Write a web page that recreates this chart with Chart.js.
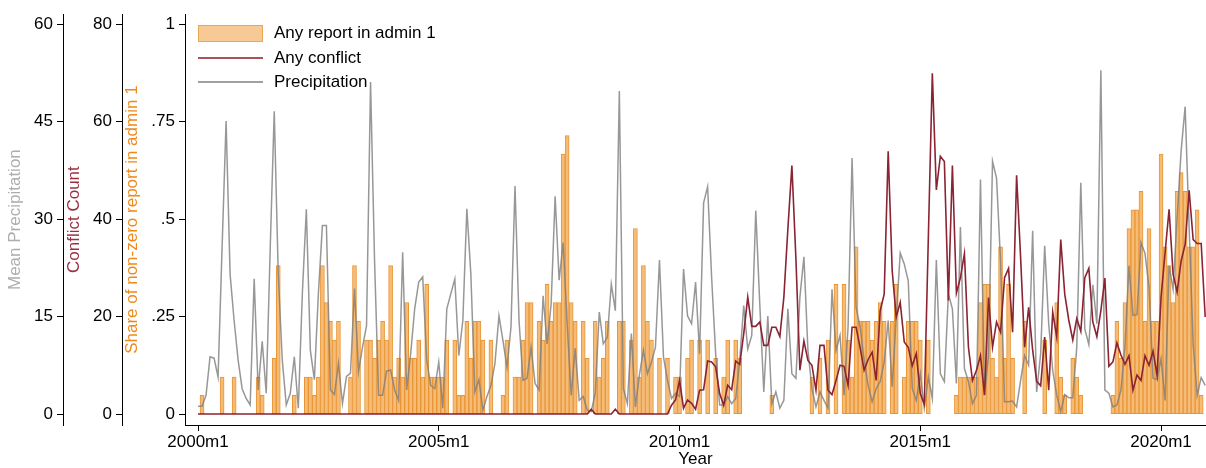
<!DOCTYPE html>
<html>
<head>
<meta charset="utf-8">
<title>Reports, conflict and precipitation</title>
<script src="https://cdn.jsdelivr.net/npm/chart.js"></script>
<style>
    body {
        margin: 0;
        background: #fff;
        font-family: "Liberation Sans", Arial, sans-serif;
    }

    #wrap {
        position: relative;
        width: 1206px;
        height: 468px;
    }

    #legend {
        position: absolute;
        left: 198px;
        top: 21px;
        font-size: 17px;
        color: #000;
    }

    .row {
        position: relative;
        height: 24.5px;
        line-height: 24.5px;
        padding-left: 76px;
        white-space: nowrap;
    }

    .sw {
        position: absolute;
        left: 0;
    }

    .box {
        top: 4px;
        width: 63px;
        height: 15px;
        background: #f6c995;
        border: 1px solid #eaa555;
    }

    .ln {
        top: 11px;
        width: 65px;
        height: 0;
        border-top: 2px solid;
    }
</style>
</head>
<body>
<div id="wrap">
    <canvas id="chart" width="1206" height="468"></canvas>
    <div id="legend">
        <div class="row"><span class="sw box"></span>Any report in admin 1</div>
        <div class="row"><span class="sw ln" style="border-color:#a8535c"></span>Any conflict</div>
        <div class="row"><span class="sw ln" style="border-color:#a0a0a0"></span>Precipitation</div>
    </div>
</div>

<script>
    // monthly values, 2000m1 .. 2020m12, one row per year
    var shareReport = [
        0, .048, 0, 0, 0, 0, .095, 0, 0, .095, 0, 0,
        0, 0, 0, .095, .048, 0, 0, .143, .381, 0, 0, 0,
        .048, 0, 0, .095, .095, .048, .095, .381, .286, .238, .19, .238,
        0, 0, .095, .381, .238, 0, .19, .19, .143, .19, .238, .19,
        .381, .095, .143, .095, .286, .143, .143, .19, .095, .333, .095, .095,
        .095, .095, .19, 0, .19, .048, .048, .238, .143, .238, .238, .19,
        0, .19, 0, 0, .048, .19, 0, .095, .095, .19, .286, .286,
        0, .238, .19, .333, .238, .286, .286, .667, .714, .286, .238, 0,
        .238, .143, 0, .238, .095, .143, .238, 0, 0, .238, .238, 0,
        .19, .476, .095, .381, .238, .19, 0, .143, 0, .143, 0, .095,
        .095, 0, .143, .19, 0, .19, 0, .19, 0, .143, 0, .095,
        .19, 0, .19, .143, 0, 0, 0, 0, 0, 0, 0, .048,
        0, 0, 0, 0, 0, 0, 0, 0, 0, .095, 0, .143,
        0, .19, 0, .333, 0, .333, .19, .095, .429, .238, .238, .238,
        .19, .238, .286, .238, 0, .238, .333, 0, .095, .238, .238, .238,
        .19, 0, .19, 0, 0, 0, 0, 0, 0, .048, .095, .095,
        .095, .095, .095, .286, .333, .333, .143, .095, .429, .143, .333, .143,
        0, 0, .238, 0, 0, 0, 0, .19, 0, 0, .286, .095,
        .048, 0, .143, .095, .048, 0, 0, 0, 0, 0, 0, 0,
        .048, .238, .143, .286, .476, .524, .524, .571, .238, .476, .238, .238,
        .667, .429, .381, .286, .571, .619, .571, .429, .429, .524, .048, 0
    ];

    var conflictCount = [
        0, 0, 0, 0, 0, 0, 0, 0, 0, 0, 0, 0,
        0, 0, 0, 0, 0, 0, 0, 0, 0, 0, 0, 0,
        0, 0, 0, 0, 0, 0, 0, 0, 0, 0, 0, 0,
        0, 0, 0, 0, 0, 0, 0, 0, 0, 0, 0, 0,
        0, 0, 0, 0, 0, 0, 0, 0, 0, 0, 0, 0,
        0, 0, 0, 0, 0, 0, 0, 0, 0, 0, 0, 0,
        0, 0, 0, 0, 0, 0, 0, 0, 0, 0, 0, 0,
        0, 0, 0, 0, 0, 0, 0, 0, 0, 0, 0, 0,
        0, 0, 1, 0, 0, 0, 0, 0, 1, 0, 0, 0,
        0, 0, 0, 0, 0, 0, 0, 0, 0, 0, 1.8, 2.9,
        6.9, 1.2, 2.9, 2.2, 1.0, 4.9, 5.0, 10.9, 10.7, 9.7, 4.2, 1.8,
        5.9, 5.0, 10.9, 10.2, 16.5, 24.0, 18.0, 18.0, 18.9, 14.1, 14.1, 17.8,
        17.8, 15.9, 24.0, 38.0, 51.0, 32.0, 9.0, 15.0, 11.0, 10.0, 4.9, 14.1,
        14.1, 4.9, 4.0, 6.9, 10.0, 9.8, 5.9, 17.8, 17.8, 13.7, 9.0, 11.2,
        12.7, 6.9, 21.2, 24.6, 53.9, 29.4, 19.9, 22.9, 14.8, 13.7, 9.9, 12.4,
        4.2, 2.0, 36.0, 69.9, 46.0, 52.9, 51.8, 23.3, 51.0, 24.8, 28.0, 32.9,
        13.7, 6.9, 9.0, 12.0, 3.9, 23.9, 13.7, 18.9, 16.8, 28.0, 29.9, 16.8,
        49.0, 32.1, 13.7, 21.9, 13.1, 6.7, 5.8, 15.8, 4.9, 20.9, 15.8, 35.8,
        24.6, 19.3, 15.2, 19.6, 17.0, 28.0, 29.9, 18.9, 15.9, 21.2, 27.9, 9.8,
        10.7, 14.6, 12.1, 10.2, 12.0, 4.9, 8.0, 6.9, 12.0, 10.0, 12.9, 8.0,
        24.0, 33.1, 42.0, 28.7, 25.0, 31.4, 34.8, 45.9, 35.8, 35.0, 35.0, 19.9
    ];

    var meanPrecip = [
        1.2, 1.2, 2.9, 8.8, 8.6, 5.7, 25.6, 45.1, 21.5, 14.4, 8.3, 3.9,
        2.4, 1.4, 20.8, 3.7, 11.2, 3.2, 25.6, 46.6, 21.5, 8.3, 1.4, 3.2,
        8.8, 0.9, 18.5, 31.5, 9.8, 5.3, 18.5, 29.0, 29.0, 3.7, 3.0, 7.8,
        1.6, 5.8, 6.3, 19.3, 6.5, 10.3, 13.6, 51.1, 23.6, 2.9, 2.9, 6.6,
        6.8, 3.7, 2.1, 24.9, 3.7, 9.3, 16.2, 20.3, 21.1, 8.3, 4.4, 3.9,
        8.0, 0.9, 16.2, 18.5, 20.8, 9.0, 14.4, 31.6, 21.5, 3.4, 5.3, 0.6,
        2.7, 4.4, 7.8, 15.1, 11.3, 7.2, 13.4, 35.1, 14.4, 5.2, 5.5, 10.3,
        4.7, 3.7, 18.2, 10.8, 16.9, 33.5, 20.6, 26.4, 13.9, 2.9, 10.1, 2.1,
        2.7, 0.6, 0.4, 3.2, 15.7, 10.8, 11.8, 20.0, 15.9, 49.7, 3.9, 1.6,
        12.4, 1.1, 6.0, 9.8, 6.2, 8.0, 10.3, 23.7, 8.8, 5.2, 2.4, 3.2,
        2.7, 22.3, 15.1, 13.9, 20.3, 9.3, 32.5, 35.0, 21.0, 9.3, 1.4, 1.4,
        2.7, 1.6, 2.4, 8.3, 16.7, 10.0, 12.1, 31.3, 16.9, 3.4, 15.1, 1.6,
        3.4, 0.9, 2.1, 16.2, 6.2, 5.5, 18.0, 24.2, 9.8, 3.9, 1.1, 3.4,
        2.1, 0.9, 19.2, 9.8, 12.1, 2.9, 13.4, 39.4, 16.4, 13.4, 8.3, 4.4,
        1.9, 3.9, 5.0, 8.0, 14.4, 4.2, 14.9, 24.8, 23.1, 20.5, 3.9, 2.1,
        6.2, 0.9, 5.7, 2.4, 23.7, 6.2, 5.0, 18.5, 16.2, 4.7, 28.8, 7.0,
        5.0, 1.6, 2.9, 36.1, 2.9, 9.0, 38.9, 36.3, 23.6, 1.9, 1.9, 2.0,
        1.1, 5.2, 9.0, 7.5, 28.2, 3.4, 9.3, 25.9, 13.9, 6.7, 2.9, 0.4,
        3.0, 2.5, 2.5, 10.3, 35.6, 13.1, 10.7, 19.9, 13.9, 52.9, 3.7, 3.2,
        1.1, 1.4, 3.7, 10.3, 22.8, 15.2, 15.3, 26.4, 24.7, 19.5, 5.5, 5.3,
        8.5, 2.1, 22.8, 19.2, 30.2, 40.5, 47.3, 28.7, 10.8, 2.9, 5.6, 4.4
    ];

    var xTickMonths = [0, 60, 120, 180, 240];
    var xTickLabels = ["2000m1", "2005m1", "2010m1", "2015m1", "2020m1"];
    var shareTicks = [0, .25, .5, .75, 1];
    var shareTickLabels = ["0", ".25", ".5", ".75", "1"];
    var conflictTicks = [0, 20, 40, 60, 80];
    var precipTicks = [0, 15, 30, 45, 60];

    var font = "'Liberation Sans', Arial, sans-serif";

    function points(values) {
        return values.map(function(v, i) { return { x: i, y: v }; });
    }

    function leftAxis(tickValues, tickLabels, min, max, title, titleColor, weight, width, titlePad) {
        return {
            type: "linear",
            position: "left",
            weight: weight,
            min: min,
            max: max,
            afterBuildTicks: function(axis) {
                axis.ticks = tickValues.map(function(v) { return { value: v }; });
            },
            afterFit: function(axis) {
                axis.width = width;
            },
            grid: { drawOnChartArea: false, color: "#000", tickLength: 6 },
            border: { display: true, color: "#000", width: 1 },
            ticks: {
                color: "#000",
                padding: 4,
                font: { family: font, size: 17 },
                callback: function(value) {
                    var k = tickValues.indexOf(value);
                    return k < 0 ? "" : tickLabels[k];
                }
            },
            title: {
                display: true,
                text: title,
                color: titleColor,
                padding: { top: titlePad, bottom: 0 },
                font: { family: font, size: 17 }
            }
        };
    }

    new Chart(document.getElementById("chart"), {
        type: "bar",
        data: {
            datasets: [{
                type: "bar",
                label: "Any report in admin 1",
                data: points(shareReport),
                yAxisID: "yShare",
                backgroundColor: "#f5bc78",
                borderColor: "#ea9534",
                borderWidth: 1,
                borderSkipped: false,
                barPercentage: 1,
                categoryPercentage: 1,
                order: 3
            }, {
                type: "line",
                label: "Any conflict",
                data: points(conflictCount),
                yAxisID: "yConflict",
                borderColor: "#8a2332",
                borderWidth: 1.6,
                pointRadius: 0,
                tension: 0,
                order: 1
            }, {
                type: "line",
                label: "Precipitation",
                data: points(meanPrecip),
                yAxisID: "yPrecip",
                borderColor: "rgba(125,125,125,0.8)",
                borderWidth: 1.5,
                pointRadius: 0,
                tension: 0,
                order: 2
            }]
        },
        options: {
            responsive: false,
            animation: false,
            devicePixelRatio: 1,
            layout: { padding: { top: 12, left: 0, right: 0, bottom: 0 } },
            plugins: {
                legend: { display: false },
                tooltip: { enabled: false }
            },
            scales: {
                x: {
                    type: "linear",
                    position: "bottom",
                    offset: false,
                    min: -3.24,
                    max: 251.2,
                    afterBuildTicks: function(axis) {
                        axis.ticks = xTickMonths.map(function(v) { return { value: v }; });
                    },
                    afterFit: function(axis) {
                        axis.height = 43;
                    },
                    grid: { offset: false, drawOnChartArea: false, color: "#000", tickLength: 6 },
                    border: { display: true, color: "#000", width: 1 },
                    ticks: {
                        color: "#000",
                        padding: 1,
                        autoSkip: false,
                        maxRotation: 0,
                        font: { family: font, size: 17 },
                        callback: function(value) {
                            var k = xTickMonths.indexOf(value);
                            return k < 0 ? "" : xTickLabels[k];
                        }
                    },
                    title: {
                        display: true,
                        text: "Year",
                        color: "#000",
                        padding: { top: 0, bottom: 0 },
                        font: { family: font, size: 17, lineHeight: 1 }
                    }
                },
                yShare: leftAxis(shareTicks, shareTickLabels, -11 / 392, 1 + 10 / 392,
                    "Share of non-zero report in admin 1", "#ee8a1a", 1, 63, 0),
                yConflict: leftAxis(conflictTicks, conflictTicks.map(String), -80 * 11 / 392, 80 + 80 * 10 / 392,
                    "Conflict Count", "#9a3040", 2, 59, 1),
                yPrecip: leftAxis(precipTicks, precipTicks.map(String), -60 * 11 / 392, 60 + 60 * 10 / 392,
                    "Mean Precipitation", "#adadad", 3, 63, 5)
            }
        }
    });
</script>
</body>
</html>
